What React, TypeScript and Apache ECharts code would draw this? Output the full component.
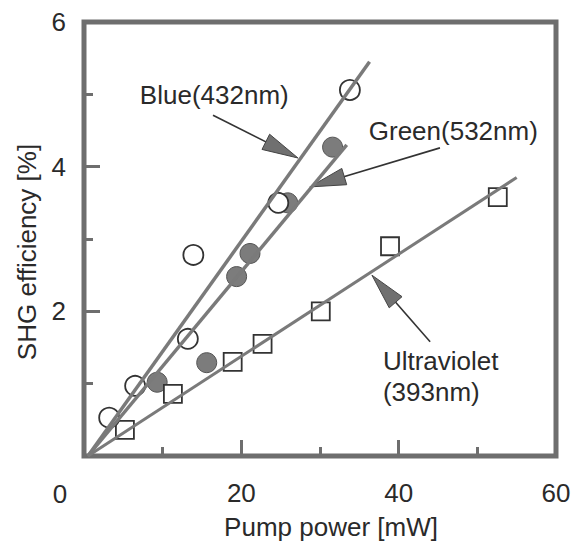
import React, { useEffect, useRef } from "react";
import * as echarts from "echarts";

// Measured points
const blueX = [3.2, 6.5, 13.2, 13.9, 24.7, 33.8];
const blueY = [0.53, 0.97, 1.62, 2.78, 3.5, 5.06];
const greenX = [9.3, 15.6, 19.4, 21.1, 25.9, 31.6];
const greenY = [1.02, 1.29, 2.48, 2.8, 3.5, 4.27];
const uvX = [5.2, 11.3, 18.9, 22.7, 30.1, 38.9, 52.6];
const uvY = [0.36, 0.86, 1.3, 1.55, 2.0, 2.9, 3.58];

// Fitted lines (end points)
const blueFitX = [0.5, 36.3];
const blueFitY = [0, 5.45];
const greenFitX = [0.5, 33.4];
const greenFitY = [0, 4.3];
const uvFitX = [0.5, 55];
const uvFitY = [0, 3.85];

// Axes
const xTickValues = [0, 20, 40, 60];
const yTickValues = [0, 2, 4, 6];
const xTitle = "Pump power [mW]";
const yTitle = "SHG efficiency [%]";
const originLabel = "0";

// Annotations (data coordinates)
const noteTexts = ["Blue(432nm)", "Green(532nm)", "Ultraviolet\n(393nm)"];
const noteX = [7.1, 36.2, 38.0];
const noteY = [4.99, 4.49, 1.1];
const arrowFromX = [16.4, 45.25, 44.0];
const arrowFromY = [4.71, 4.26, 1.58];
const arrowToX = [27.2, 28.7, 36.6];
const arrowToY = [4.12, 3.72, 2.5];

const FONT = "'Liberation Sans', Arial, Helvetica, sans-serif";
const TEXT = "#2a2a2a";
const FRAME = "#6e6e6e";

const zip = (xs: number[], ys: number[]) => xs.map((x, i) => [x, ys[i]]);

export default function App() {
  const ref = useRef<HTMLDivElement>(null);

  useEffect(() => {
    if (!ref.current) return;
    const chart = echarts.init(ref.current, null, { renderer: "svg" });
    const tickStyle = { color: FRAME, width: 3 };
    const option: any = {
      animation: false,
      backgroundColor: "#ffffff",
      grid: {
        left: 84,
        right: 27,
        top: 22,
        bottom: 89,
        show: true,
        borderWidth: 5,
        borderColor: FRAME,
        backgroundColor: "transparent",
      },
      xAxis: {
        type: "value",
        min: xTickValues[0],
        max: xTickValues[xTickValues.length - 1],
        interval: xTickValues[1] - xTickValues[0],
        axisLine: { show: false },
        axisTick: { show: true, inside: true, length: 16, lineStyle: tickStyle },
        minorTick: { show: true, splitNumber: 2, length: 9, lineStyle: tickStyle },
        splitLine: { show: false },
        axisLabel: {
          margin: 24,
          fontSize: 26,
          fontFamily: FONT,
          color: TEXT,
          formatter: (v: number) => (v === 0 ? "" : String(v)),
        },
      },
      yAxis: {
        type: "value",
        min: yTickValues[0],
        max: yTickValues[yTickValues.length - 1],
        interval: yTickValues[1] - yTickValues[0],
        axisLine: { show: false },
        axisTick: { show: true, inside: true, length: 16, lineStyle: tickStyle },
        minorTick: { show: true, splitNumber: 2, length: 9, lineStyle: tickStyle },
        splitLine: { show: false },
        axisLabel: {
          margin: 18,
          fontSize: 26,
          fontFamily: FONT,
          color: TEXT,
          formatter: (v: number) => (v === 0 ? "" : String(v)),
        },
      },
      series: [
        {
          type: "line",
          data: zip(blueFitX, blueFitY),
          showSymbol: false,
          silent: true,
          lineStyle: { color: "#7a7a7a", width: 3.5 },
        },
        {
          type: "line",
          data: zip(greenFitX, greenFitY),
          showSymbol: false,
          silent: true,
          lineStyle: { color: "#7a7a7a", width: 3.5 },
        },
        {
          type: "line",
          data: zip(uvFitX, uvFitY),
          showSymbol: false,
          silent: true,
          lineStyle: { color: "#7a7a7a", width: 3 },
        },
        {
          name: "Green(532nm)",
          type: "scatter",
          symbol: "circle",
          symbolSize: 20,
          data: zip(greenX, greenY),
          itemStyle: { color: "#7c7c7c", borderColor: "#555", borderWidth: 1, opacity: 1 },
        },
        {
          name: "Ultraviolet(393nm)",
          type: "scatter",
          symbol: "rect",
          symbolSize: 18,
          data: zip(uvX, uvY),
          itemStyle: { color: "#ffffff", borderColor: "#333", borderWidth: 1.8, opacity: 1 },
        },
        {
          name: "Blue(432nm)",
          type: "scatter",
          symbol: "circle",
          symbolSize: 20,
          data: zip(blueX, blueY),
          itemStyle: { color: "#ffffff", borderColor: "#333", borderWidth: 1.8, opacity: 1 },
        },
      ],
    };
    chart.setOption(option);

    const px = (x: number, y: number) =>
      chart.convertToPixel({ gridIndex: 0 }, [x, y]) as number[];

    const graphics: any[] = [];
    // axis titles and shared origin label
    const origin = px(0, 0);
    graphics.push({
      type: "text",
      x: origin[0] - 24,
      y: origin[1] + 38,
      style: {
        text: originLabel,
        fontSize: 26,
        fontFamily: FONT,
        fill: TEXT,
        align: "center",
        verticalAlign: "middle",
        textAlign: "center",
        textVerticalAlign: "middle",
      },
    });
    graphics.push({
      type: "text",
      x: 331,
      y: 527,
      style: {
        text: xTitle,
        fontSize: 26,
        fontFamily: FONT,
        fill: TEXT,
        align: "center",
        verticalAlign: "middle",
        textAlign: "center",
        textVerticalAlign: "middle",
      },
    });
    graphics.push({
      type: "text",
      x: 27,
      y: 252,
      rotation: Math.PI / 2,
      style: {
        text: yTitle,
        fontSize: 26,
        fontFamily: FONT,
        fill: TEXT,
        align: "center",
        verticalAlign: "middle",
        textAlign: "center",
        textVerticalAlign: "middle",
      },
    });

    noteTexts.forEach((t, i) => {
      const p = px(noteX[i], noteY[i]);
      graphics.push({
        type: "text",
        x: p[0],
        y: p[1],
        style: {
          text: t,
          fontSize: 26,
          fontFamily: FONT,
          fill: TEXT,
          lineHeight: 31,
          align: "left",
          verticalAlign: "middle",
          textAlign: "left",
          textVerticalAlign: "middle",
        },
      });
    });

    const HEAD_L = 36;
    const HEAD_W = 17;
    arrowFromX.forEach((_, i) => {
      const s = px(arrowFromX[i], arrowFromY[i]);
      const t = px(arrowToX[i], arrowToY[i]);
      const dx = t[0] - s[0];
      const dy = t[1] - s[1];
      const len = Math.hypot(dx, dy);
      const ux = dx / len;
      const uy = dy / len;
      const nx = -uy;
      const ny = ux;
      const bx = t[0] - ux * HEAD_L;
      const by = t[1] - uy * HEAD_L;
      graphics.push({
        type: "line",
        shape: { x1: s[0], y1: s[1], x2: bx + ux * 4, y2: by + uy * 4 },
        style: { stroke: "#333", lineWidth: 1.6 },
      });
      graphics.push({
        type: "polygon",
        shape: {
          points: [
            [t[0], t[1]],
            [bx + (nx * HEAD_W) / 2, by + (ny * HEAD_W) / 2],
            [bx - (nx * HEAD_W) / 2, by - (ny * HEAD_W) / 2],
          ],
        },
        style: { fill: "#707070", stroke: "#444", lineWidth: 1 },
      });
    });

    chart.setOption({ graphic: graphics });

    return () => chart.dispose();
  }, []);

  return (
    <div
      ref={ref}
      style={{ position: "fixed", left: 0, top: 0, width: 583, height: 545, background: "#fff" }}
    />
  );
}
